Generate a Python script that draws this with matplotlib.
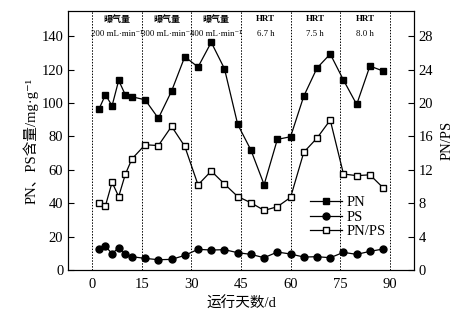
import matplotlib
matplotlib.use("Agg")
import matplotlib.pyplot as plt

plt.rcParams['font.family'] = ['Liberation Serif', 'Noto Sans CJK SC', 'DejaVu Sans']

# sampling days and measured EPS components
days = [2, 4, 6, 8, 10, 12, 16, 20, 24, 28, 32, 36, 40, 44, 48, 52, 56, 60,
        64, 68, 72, 76, 80, 84, 88]
pn = [96.2, 104.9, 98.3, 113.5, 104.9, 103.7, 101.9, 90.8, 107.1, 127.7,
      121.5, 136.3, 120.5, 87.2, 71.8, 51.1, 78.2, 79.8, 104.1, 120.9,
      129.3, 113.7, 99.1, 122.1, 119.1]
ps = [12.4, 14.2, 9.8, 13.4, 9.8, 8.0, 7.0, 6.2, 6.4, 8.8, 12.4, 12.0, 12.2,
      10.4, 9.4, 7.4, 10.8, 9.6, 7.8, 8.0, 7.4, 10.6, 9.4, 11.2, 12.6]
ratio = [8.06, 7.7, 10.5, 8.8, 11.45, 13.3, 15.0, 14.9, 17.2, 14.8, 10.2,
         11.85, 10.3, 8.8, 8.06, 7.14, 7.58, 8.7, 14.1, 15.8, 17.95, 11.5,
         11.3, 11.4, 9.85]

# stage boundaries and labels
bounds = [0, 15, 30, 45, 60, 75, 90]
stage_top = ['曝气量', '曝气量', '曝气量', 'HRT', 'HRT', 'HRT']
stage_bot = ['200 mL·min⁻¹', '300 mL·min⁻¹', '400 mL·min⁻¹',
             '6.7 h', '7.5 h', '8.0 h']

fig = plt.figure(figsize=(4.73, 3.25), dpi=100)
ax = fig.add_axes([0.144, 0.169, 0.731, 0.797])
ax2 = ax.twinx()

l1, = ax.plot(days, pn, color='black', lw=0.9, marker='s', ms=5,
              mfc='black', mec='black', label='PN')
l2, = ax.plot(days, ps, color='black', lw=0.9, marker='o', ms=5,
              mfc='black', mec='black', label='PS')
l3, = ax2.plot(days, ratio, color='black', lw=0.9, marker='s', ms=5,
               mfc='white', mec='black', label='PN/PS')

for b in bounds:
    ax.axvline(b, color='black', lw=0.7, ls=(0, (1.5, 1.5)), zorder=0)

for i in range(len(stage_top)):
    xc = (bounds[i] + bounds[i + 1]) / 2
    ax.text(xc, 150, stage_top[i], ha='center', va='center', fontsize=6.5,
            fontweight='bold')
    ax.text(xc, 141, stage_bot[i], ha='center', va='center', fontsize=6.3)

ax.set_xlim(-7.3, 97.3)
ax.set_ylim(0, 155)
ax2.set_ylim(0, 31)
ax.set_xticks([0, 15, 30, 45, 60, 75, 90])
ax.set_yticks(range(0, 141, 20))
ax2.set_yticks(range(0, 29, 4))

ax.tick_params(axis='y', direction='in', length=4, labelsize=10.5)
ax.tick_params(axis='x', length=0, labelsize=10.5, pad=6)
ax2.tick_params(axis='y', direction='in', length=4, labelsize=10.5)

ax.set_xlabel('运行天数/d', fontsize=10.5)
ax.set_ylabel('PN、PS含量/mg·g⁻¹', fontsize=10.5, labelpad=2)
ax2.set_ylabel('PN/PS', fontsize=10.5, labelpad=5)

ax.legend(handles=[l1, l2, l3], loc='lower right', bbox_to_anchor=(0.935, 0.1),
          frameon=False, fontsize=10.5, handlelength=2.2, handletextpad=0.3,
          labelspacing=0.1, borderaxespad=0)

fig.savefig('out.png', dpi=100)
